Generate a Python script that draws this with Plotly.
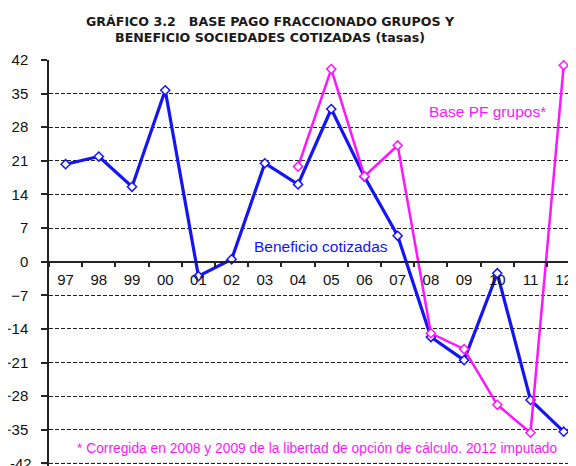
import plotly.graph_objects as go

years = ["97", "98", "99", "00", "01", "02", "03", "04", "05", "06", "07", "08", "09", "10", "11", "12"]
beneficio = [20.3, 21.9, 15.6, 35.7, -3.0, 0.5, 20.5, 16.1, 31.8, 17.7, 5.4, -15.7, -20.5, -2.4, -28.8, -35.4]
base_pf_years = ["04", "05", "06", "07", "08", "09", "10", "11", "12"]
base_pf = [19.8, 40.1, 17.8, 24.2, -14.9, -18.2, -29.8, -35.6, 40.9]
y_ticks = [-42, -35, -28, -21, -14, -7, 0, 7, 14, 21, 28, 35, 42]

BLUE = "#1414f5"
PINK = "#ff14ff"

fig = go.Figure()
fig.add_trace(go.Scatter(
    x=years, y=beneficio, mode="lines+markers",
    line=dict(color=BLUE, width=3.2),
    marker=dict(symbol="diamond", size=7, color="white", line=dict(color=BLUE, width=1.5)),
    showlegend=False, cliponaxis=False))
fig.add_trace(go.Scatter(
    x=base_pf_years, y=base_pf, mode="lines+markers",
    line=dict(color=PINK, width=2.5),
    marker=dict(symbol="diamond", size=7, color="white", line=dict(color=PINK, width=1.5)),
    showlegend=False, cliponaxis=False))

W, H = 568, 458
L = 41
Y0, Y1 = -42.54, 42
TICKLEN, STANDOFF = 6, 10
fig.update_layout(
    width=W, height=H,
    margin=dict(l=L, r=0, t=52, b=0),
    paper_bgcolor="white", plot_bgcolor="white",
    font=dict(family="Liberation Sans, Arial, sans-serif", size=15, color="#111111"),
    xaxis=dict(
        type="category", categoryorder="array", categoryarray=years,
        range=[-0.5, 15.37],
        anchor="free", position=(0 - Y0) / (Y1 - Y0),
        automargin=False,
        showline=True, linecolor="#222222", linewidth=1.5,
        ticks="outside", ticklen=5, tickcolor="#222222", tickwidth=1.5,
        tickson="boundaries",
        showgrid=False, zeroline=False,
        tickfont=dict(size=15, color="#111111"),
        ticklabelstandoff=5,
    ),
    yaxis=dict(
        range=[Y0, Y1], tickvals=y_ticks,
        automargin=False,
        showline=True, linecolor="#222222", linewidth=1.5,
        ticks="outside", ticklen=TICKLEN, tickcolor="#222222", tickwidth=1.5,
        showgrid=True, gridcolor="#222222", gridwidth=1, griddash="4px,2px",
        zeroline=False,
        tickfont=dict(size=15, color="#111111"),
        ticklabelstandoff=STANDOFF,
    ),
    annotations=[
        dict(text="<b>GRÁFICO 3.2   BASE PAGO FRACCIONADO GRUPOS Y<br>BENEFICIO SOCIEDADES COTIZADAS (tasas)</b>",
             xref="paper", yref="paper", x=(262 - L) / (W - L), y=1, xanchor="center", yanchor="bottom",
             yshift=13, showarrow=False,
             font=dict(family="DejaVu Sans, Verdana, sans-serif", size=12.6, color="#1a1a1a")),
        dict(text="Base PF grupos*", x=12.69, y=31.2, xref="x", yref="y",
             xanchor="center", yanchor="middle", showarrow=False,
             font=dict(family="Liberation Sans, Arial, sans-serif", size=15.5, color=PINK)),
        dict(text="Beneficio cotizadas", x=7.69, y=3.1, xref="x", yref="y",
             xanchor="center", yanchor="middle", showarrow=False,
             font=dict(family="Liberation Sans, Arial, sans-serif", size=15.5, color=BLUE)),
        dict(text="* Corregida en 2008 y 2009 de la libertad de opción de cálculo. 2012 imputado",
             x=7.57, y=-38.8, xref="x", yref="y", xanchor="center", yanchor="middle",
             showarrow=False,
             font=dict(family="Liberation Sans, Arial, sans-serif", size=13.8, color=PINK)),
        # bottom tick label (partly cut off by the page edge, as in the reference)
        dict(text=str(y_ticks[0]), x=0, y=y_ticks[0], xref="paper", yref="y",
             xanchor="right", yanchor="middle", xshift=-(TICKLEN + STANDOFF - 1), showarrow=False,
             font=dict(family="Liberation Sans, Arial, sans-serif", size=15, color="#111111")),
    ],
)

fig.add_shape(type="line", xref="paper", yref="y", x0=0, x1=1, y0=0, y1=0,
              line=dict(color="#222222", width=1.5), layer="below")
fig.add_shape(type="line", xref="paper", yref="y", x0=0, x1=1, y0=y_ticks[0], y1=y_ticks[0],
              line=dict(color="#222222", width=1, dash="4px,2px"), layer="below")
fig.add_shape(type="line", xref="paper", yref="y", xsizemode="pixel", xanchor=0,
              x0=-TICKLEN, x1=0, y0=y_ticks[0], y1=y_ticks[0],
              line=dict(color="#222222", width=1.5), layer="above")

fig.write_html("out.html")
